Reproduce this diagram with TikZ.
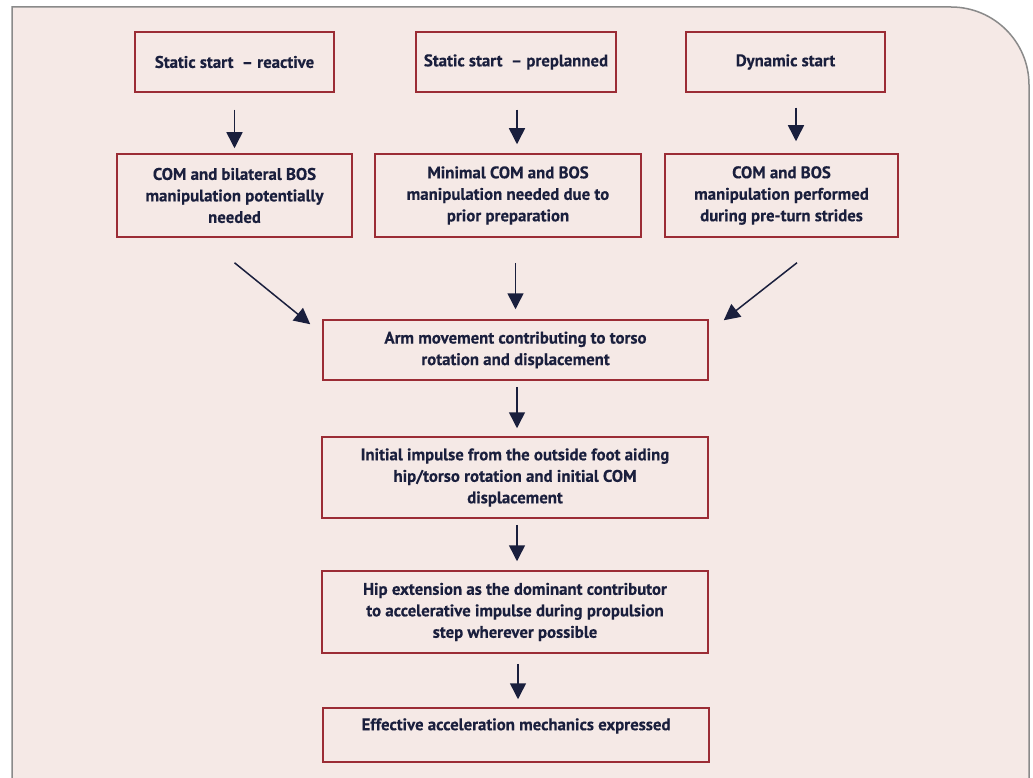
\documentclass[tikz,border=0pt]{standalone}
\usepackage{fontspec}
\setmainfont{PT Sans}[BoldFeatures={FakeBold=0.4}]
\usetikzlibrary{arrows.meta,calc}
\definecolor{panelfill}{HTML}{F5E9E6}
\definecolor{panelline}{HTML}{8A8A8A}
\definecolor{boxline}{HTML}{9B2C35}
\definecolor{ink}{HTML}{1A1F3D}
\begin{document}
\begin{tikzpicture}[x=1pt,y=1pt,
  flowbox/.style={draw=boxline, line width=1.5pt, rectangle, inner sep=0pt,
    align=center, text=ink, font=\fontsize{16.8}{21.5}\selectfont\bfseries},
  flowarrow/.style={draw=ink, line width=1.5pt,
    -{Triangle[length=16pt,width=16pt]}}]
\useasboundingbox (0,0) rectangle (1033,-778);
\clip (0,0) rectangle (1033,-778);
\fill[white] (0,0) rectangle (1033,-778);
\draw[panelline, fill=panelfill, line width=1.5pt]
  (12,-800) -- (12,-7) -- (951,-7) arc[start angle=90, end angle=0, radius=78] -- (1029,-800);

\node[flowbox, minimum width=199pt, minimum height=60pt] (B1) at (234.5,-62) {Static start \ -- reactive};
\node[flowbox, minimum width=200pt, minimum height=60pt] (B2) at (516,-62) {Static start \ -- preplanned};
\node[flowbox, minimum width=199pt, minimum height=60pt] (B3) at (785.5,-62) {Dynamic start};

\node[flowbox, minimum width=235pt, minimum height=83pt] (B4) at (234.5,-195.5) {COM and bilateral BOS\\manipulation potentially\\needed};
\node[flowbox, minimum width=266pt, minimum height=83pt] (B5) at (508,-195.5) {Minimal COM and BOS\\manipulation needed due to\\prior preparation};
\node[flowbox, minimum width=233pt, minimum height=83pt] (B6) at (781.5,-195.5) {COM and BOS\\manipulation performed\\during pre-turn strides};

\node[flowbox, minimum width=385pt, minimum height=60pt] (B7) at (515.5,-350) {Arm movement contributing to torso\\rotation and displacement};
\node[flowbox, minimum width=386pt, minimum height=81pt] (B8) at (515,-477.5) {Initial impulse from the outside foot aiding\\hip/torso rotation and initial COM\\displacement};
\node[flowbox, minimum width=386pt, minimum height=82pt] (B9) at (515,-612) {Hip extension as the dominant contributor\\to accelerative impulse during propulsion\\step wherever possible};
\node[flowbox, minimum width=386pt, minimum height=54pt] (B10) at (516,-735) {Effective acceleration mechanics expressed\\\mbox{}};

\draw[flowarrow, shorten <=17pt, shorten >=5pt] (B1.south) -- (B1.south |- B4.north);
\draw[flowarrow, shorten <=17pt, shorten >=9pt] ([xshift=1pt]B2.south) -- ([xshift=1pt]B2.south |- B5.north);
\draw[flowarrow, shorten <=15pt, shorten >=12pt] ([xshift=10.5pt]B3.south) -- ([xshift=10.5pt]B3.south |- B6.north);

\draw[flowarrow] ([yshift=-25pt]B4.south) -- ([shift={(-12pt,-5pt)}]B7.north west);
\draw[flowarrow, shorten <=25pt, shorten >=10pt] (B7.north |- B5.south) -- (B7.north);
\draw[flowarrow] ([shift={(15.5pt,-25pt)}]B6.south) -- ([shift={(15pt,-1pt)}]B7.north east);

\draw[flowarrow, shorten <=6pt, shorten >=8pt] ([xshift=1.5pt]B7.south) -- ([xshift=1.5pt]B7.south |- B8.north);
\draw[flowarrow, shorten <=6pt, shorten >=9pt] ([xshift=2pt]B8.south) -- ([xshift=2pt]B8.south |- B9.north);
\draw[flowarrow, shorten <=10pt, shorten >=8pt] ([xshift=3pt]B9.south) -- ([xshift=3pt]B9.south |- B10.north);
\end{tikzpicture}
\end{document}
